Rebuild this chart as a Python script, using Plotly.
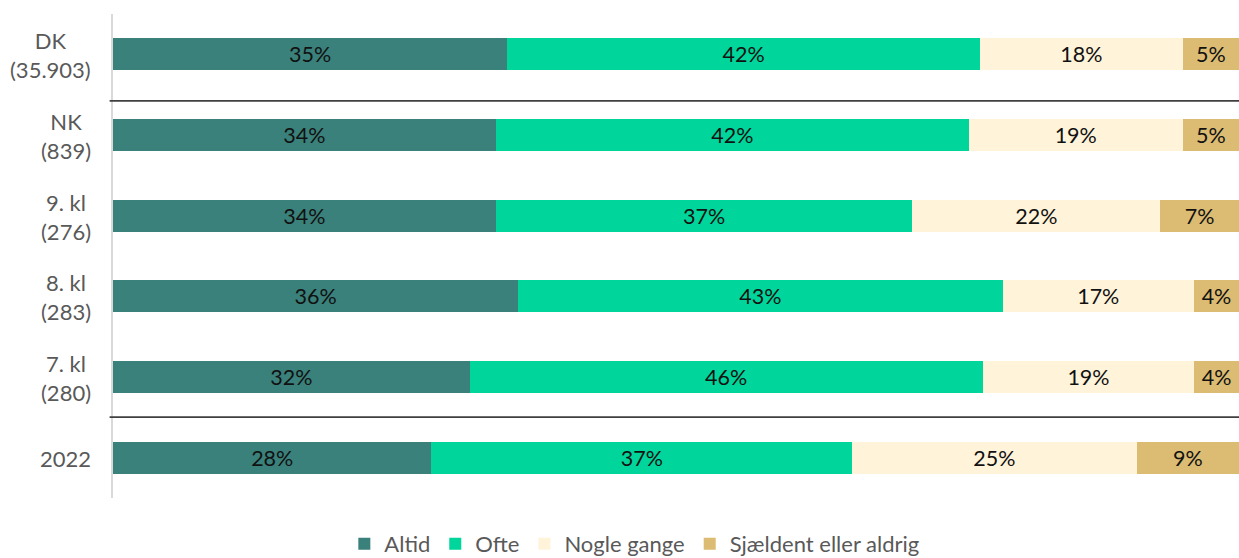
import plotly.graph_objects as go

# Categories (top to bottom) and their respondent counts
groups = ["DK", "NK", "9. kl", "8. kl", "7. kl", "2022"]
counts = ["(35.903)", "(839)", "(276)", "(283)", "(280)", None]

# Share of answers per response category (%)
altid = [35, 34, 34, 36, 32, 28]
ofte = [42, 42, 37, 43, 46, 37]
nogle_gange = [18, 19, 22, 17, 19, 25]
sjaeldent = [5, 5, 7, 4, 4, 9]

series = [
    ("Altid", altid, "#3A817B"),
    ("Ofte", ofte, "#00D69B"),
    ("Nogle gange", nogle_gange, "#FFF4DA"),
    ("Sjældent eller aldrig", sjaeldent, "#DBBC72"),
]

FONT = "Lato, 'Open Sans', sans-serif"
GREY = "#595959"

fig = go.Figure()
for name, vals, color in series:
    fig.add_trace(go.Bar(
        y=groups,
        x=vals,
        name=name,
        orientation="h",
        marker=dict(color=color, line=dict(width=0)),
        text=[f"{v}%" for v in vals],
        textposition="inside",
        insidetextanchor="middle",
        constraintext="none",
        textfont=dict(family=FONT, size=21.5, color="#111111"),
        hoverinfo="skip",
    ))

# Group labels: name above count, lines centred on each other
annotations = []
for i, (g, c) in enumerate(zip(groups, counts)):
    txt = g if c is None else f"{g}<br>{c}"
    annotations.append(dict(
        x=0, xref="paper", xanchor="right", xshift=-20,
        y=i, yref="y", yanchor="middle", yshift=-1,
        text=txt, align="center", showarrow=False,
        font=dict(family=FONT, size=22, color=GREY),
    ))

# Separator lines between the comparison groups
shapes = [
    dict(type="line", xref="paper", yref="paper", x0=-0.003, x1=1, y0=yy, y1=yy,
         line=dict(color="#3F3F3F", width=1.6))
    for yy in (0.8206, 0.167)
]

fig.update_layout(
    width=1239,
    height=558,
    margin=dict(l=113, r=0, t=14, b=60, autoexpand=False),
    barmode="stack",
    barnorm="percent",
    bargap=0.6,
    plot_bgcolor="white",
    paper_bgcolor="white",
    xaxis=dict(range=[0, 100], visible=False, fixedrange=True),
    yaxis=dict(
        type="category",
        categoryorder="array", categoryarray=groups,
        range=[len(groups) - 0.5, -0.5], autorange=False,
        showticklabels=False, ticks="", showgrid=False, zeroline=False,
        showline=True, linecolor="#D9D9D9", linewidth=2,
    ),
    showlegend=True,
    legend=dict(
        orientation="h", x=0.463, xanchor="center", y=-0.095, yanchor="middle",
        font=dict(family=FONT, size=22, color=GREY),
        traceorder="normal", itemclick=False, itemdoubleclick=False,
    ),
    annotations=annotations,
    shapes=shapes,
)

fig.write_html("out.html")
